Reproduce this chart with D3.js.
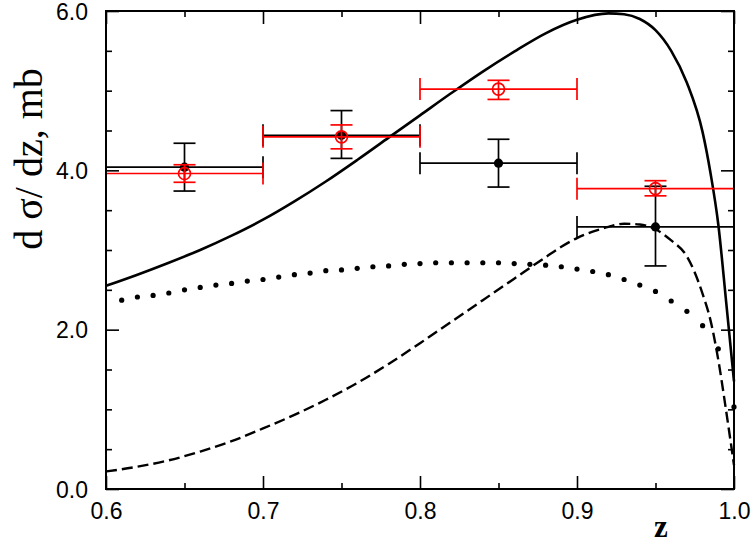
<!DOCTYPE html>
<html>
<head>
<meta charset="utf-8">
<script src="https://cdn.jsdelivr.net/npm/d3@7"></script>
<style>
  body { margin: 0; background: #fff; }
  .tick text { font-family: "Liberation Sans", Arial, sans-serif; font-size: 23px; fill: #000; }
</style>
</head>
<body>
<svg id="chart" width="754" height="545"></svg>
<script>
// bins and data points (z bins of 0.1)
const binLo = [0.6, 0.7, 0.8, 0.9];
const binHi = [0.7, 0.8, 0.9, 1.0];
const binMid = [0.65, 0.75, 0.85, 0.95];

const blackY  = [4.04, 4.44, 4.09, 3.29];
const blackLo = [3.74, 4.15, 3.79, 2.80];
const blackHi = [4.34, 4.75, 4.39, 3.80];

const redY  = [3.96, 4.42, 5.02, 3.77];
const redLo = [3.85, 4.27, 4.89, 3.68];
const redHi = [4.07, 4.57, 5.13, 3.87];

// solid curve
const solidZ = [0.60, 0.62, 0.64, 0.66, 0.68, 0.70, 0.72, 0.74, 0.76, 0.78, 0.80, 0.82, 0.84, 0.86, 0.88, 0.90, 0.92, 0.93, 0.94, 0.95, 0.96, 0.97, 0.98, 0.985, 0.99, 0.995, 1.00];
const solidV = [2.55, 2.69, 2.84, 3.00, 3.18, 3.38, 3.61, 3.86, 4.13, 4.41, 4.69, 4.97, 5.24, 5.49, 5.72, 5.89, 5.97, 5.96, 5.90, 5.76, 5.50, 5.10, 4.48, 3.97, 3.32, 2.35, 1.35];

// dashed curve
const dashZ = [0.60, 0.62, 0.64, 0.66, 0.68, 0.70, 0.72, 0.74, 0.76, 0.78, 0.80, 0.82, 0.84, 0.86, 0.88, 0.89, 0.90, 0.91, 0.92, 0.93, 0.94, 0.95, 0.96, 0.97, 0.98, 0.985, 0.99, 0.995, 1.00];
const dashV = [0.22, 0.28, 0.36, 0.47, 0.60, 0.76, 0.93, 1.12, 1.33, 1.57, 1.83, 2.10, 2.37, 2.64, 2.91, 3.04, 3.15, 3.23, 3.29, 3.33, 3.32, 3.26, 3.12, 2.92, 2.45, 2.12, 1.62, 0.98, 0.30];

// dotted curve (drawn as dots)
const dotZ = [0.61, 0.62, 0.63, 0.64, 0.65, 0.66, 0.67, 0.68, 0.69, 0.70, 0.71, 0.72, 0.73, 0.74, 0.75, 0.76, 0.77, 0.78, 0.79, 0.80,
              0.81, 0.82, 0.83, 0.84, 0.85, 0.86, 0.87, 0.88, 0.89, 0.90, 0.91, 0.92, 0.93, 0.94, 0.95, 0.96, 0.97, 0.98, 0.99, 1.00];
const dotV = [2.37, 2.41, 2.43, 2.46, 2.50, 2.53, 2.56, 2.58, 2.61, 2.63, 2.66, 2.69, 2.71, 2.74, 2.75, 2.77, 2.79, 2.80, 2.82, 2.83,
              2.84, 2.84, 2.84, 2.84, 2.84, 2.83, 2.82, 2.81, 2.79, 2.76, 2.73, 2.69, 2.63, 2.56, 2.48, 2.36, 2.23, 2.05, 1.76, 1.03];

// ticks
const xMajor = [0.6, 0.7, 0.8, 0.9, 1.0];
const xMinor = [0.65, 0.75, 0.85, 0.95];
const yMajor = [0, 2, 4, 6];
const yMinor = [0.5, 1, 1.5, 2.5, 3, 3.5, 4.5, 5, 5.5];

const svg = d3.select('#chart');
const margin = { top: 11, right: 20, bottom: 56, left: 106 };
const width = +svg.attr("width") - margin.left - margin.right;
const height = +svg.attr("height") - margin.top - margin.bottom;

const x = d3.scaleLinear().domain([0.6, 1.0]).range([0, width]);
const y = d3.scaleLinear().domain([0, 6]).range([height, 0]);

const g = svg.append("g")
    .attr("transform", "translate(" + margin.left + "," + margin.top + ")");

// axes, ticks pointing inward
function styleAxis(sel) {
    sel.select(".domain").remove();
    sel.selectAll(".tick line").attr("stroke", "#000").attr("stroke-width", 1.6);
}

g.append("g").attr("transform", "translate(0," + height + ")")
    .call(d3.axisBottom(x).tickValues(xMajor).tickSize(-13).tickPadding(14).tickFormat(d3.format(".1f")))
    .call(styleAxis);
g.append("g").attr("transform", "translate(0," + height + ")")
    .call(d3.axisBottom(x).tickValues(xMinor).tickSize(-6).tickFormat(""))
    .call(styleAxis);
g.append("g")
    .call(d3.axisTop(x).tickValues(xMajor).tickSize(-13).tickFormat(""))
    .call(styleAxis);
g.append("g")
    .call(d3.axisTop(x).tickValues(xMinor).tickSize(-6).tickFormat(""))
    .call(styleAxis);

g.append("g")
    .call(d3.axisLeft(y).tickValues(yMajor).tickSize(-13).tickPadding(18).tickFormat(d3.format(".1f")))
    .call(styleAxis)
    .selectAll("text").attr("dy", "0.35em");
g.append("g")
    .call(d3.axisLeft(y).tickValues(yMinor).tickSize(-6).tickFormat(""))
    .call(styleAxis);
g.append("g").attr("transform", "translate(" + width + ",0)")
    .call(d3.axisRight(y).tickValues(yMajor).tickSize(-13).tickFormat(""))
    .call(styleAxis);
g.append("g").attr("transform", "translate(" + width + ",0)")
    .call(d3.axisRight(y).tickValues(yMinor).tickSize(-6).tickFormat(""))
    .call(styleAxis);

// curves
const line = d3.line()
    .x(d => x(d[0]))
    .y(d => y(d[1]))
    .curve(d3.curveMonotoneX);

g.append("path")
    .datum(solidZ.map((z, i) => [z, solidV[i]]))
    .attr("d", line)
    .attr("fill", "none")
    .attr("stroke", "#000")
    .attr("stroke-width", 2.6);

g.append("path")
    .datum(dashZ.map((z, i) => [z, dashV[i]]))
    .attr("d", line)
    .attr("fill", "none")
    .attr("stroke", "#000")
    .attr("stroke-width", 2.4)
    .attr("stroke-dasharray", "11,5");

g.selectAll("circle.dot")
    .data(dotZ.map((z, i) => [z, dotV[i]]))
    .enter().append("circle")
    .attr("class", "dot")
    .attr("cx", d => x(d[0]))
    .attr("cy", d => y(d[1]))
    .attr("r", 2.6)
    .attr("fill", "#000");

// error bars
const capW = 11;   // half width of y-error caps
const capH = 11;   // half height of x-bin caps

function drawSet(vals, lo, hi, color, cls) {
    const data = binMid.map((z, i) => ({ z: z, a: binLo[i], b: binHi[i], v: vals[i], lo: lo[i], hi: hi[i] }));
    const s = g.selectAll("g." + cls).data(data).enter().append("g")
        .attr("class", cls)
        .attr("stroke", color)
        .attr("stroke-width", 1.7)
        .attr("fill", "none");
    // horizontal bin bar
    s.append("line")
        .attr("x1", d => x(d.a)).attr("x2", d => x(d.b))
        .attr("y1", d => y(d.v)).attr("y2", d => y(d.v));
    s.append("line")
        .attr("x1", d => x(d.a)).attr("x2", d => x(d.a))
        .attr("y1", d => y(d.v) - capH).attr("y2", d => y(d.v) + capH);
    s.append("line")
        .attr("x1", d => x(d.b)).attr("x2", d => x(d.b))
        .attr("y1", d => y(d.v) - capH).attr("y2", d => y(d.v) + capH);
    // vertical error
    s.append("line")
        .attr("x1", d => x(d.z)).attr("x2", d => x(d.z))
        .attr("y1", d => y(d.lo)).attr("y2", d => y(d.hi));
    s.append("line")
        .attr("x1", d => x(d.z) - capW).attr("x2", d => x(d.z) + capW)
        .attr("y1", d => y(d.lo)).attr("y2", d => y(d.lo));
    s.append("line")
        .attr("x1", d => x(d.z) - capW).attr("x2", d => x(d.z) + capW)
        .attr("y1", d => y(d.hi)).attr("y2", d => y(d.hi));
    return s;
}

const blk = drawSet(blackY, blackLo, blackHi, "#000", "blk");
blk.append("circle")
    .attr("cx", d => x(d.z)).attr("cy", d => y(d.v))
    .attr("r", 4.6).attr("fill", "#000").attr("stroke", "none");

const red = drawSet(redY, redLo, redHi, "#ff0000", "red");
red.append("circle")
    .attr("cx", d => x(d.z)).attr("cy", d => y(d.v))
    .attr("r", 6).attr("fill", "none");

// frame
g.append("rect")
    .attr("x", 0).attr("y", 0)
    .attr("width", width).attr("height", height)
    .attr("fill", "none")
    .attr("stroke", "#000")
    .attr("stroke-width", 2);

// axis titles
svg.append("text")
    .attr("transform", "translate(42,159) rotate(-90)")
    .attr("text-anchor", "middle")
    .style("font-family", "'Liberation Serif', 'Times New Roman', serif")
    .style("font-size", "40px")
    .text("d σ/ dz, mb");

svg.append("text")
    .attr("x", 661)
    .attr("y", 537)
    .attr("text-anchor", "middle")
    .style("font-family", "'Liberation Serif', 'Times New Roman', serif")
    .style("font-weight", "bold")
    .style("font-size", "31px")
    .text("z");
</script>
</body>
</html>
